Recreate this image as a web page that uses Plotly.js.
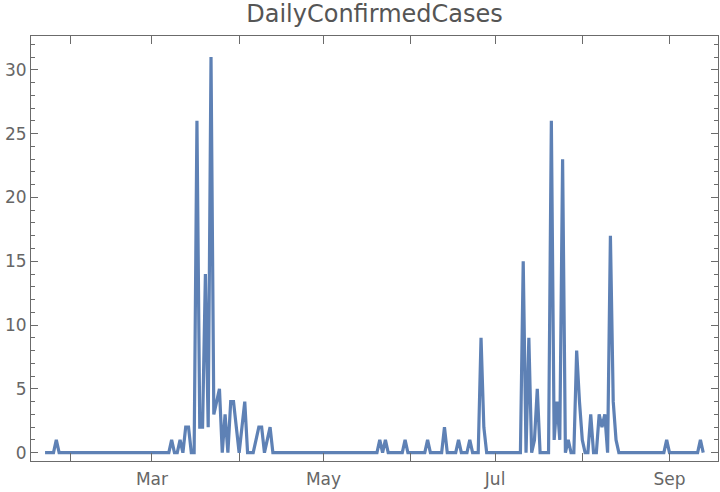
<!DOCTYPE html>
<html>
<head>
<meta charset="utf-8">
<script src="https://cdn.plot.ly/plotly-3.0.1.min.js"></script>
<style>
  html, body { margin: 0; padding: 0; background: #ffffff; }
  #chart { width: 720px; height: 492px; }
</style>
</head>
<body>
<div id="chart"></div>
<script>
// Daily confirmed cases, one value per day starting 2020-01-23
const startDate = '2020-01-23';
const jan = [0,0,0,0,1,0,0,0,0];                                   // Jan 23-31
const feb = [0,0,0,0,0,0,0,0,0,0, 0,0,0,0,0,0,0,0,0,0, 0,0,0,0,0,0,0,0,0]; // Feb 1-29
const mar = [0,0,0,0,0,0,0,1,0,0, 1,0,2,2,0,0,26,2,2,14, 2,31,3,4,5,0,3,0,4,4, 2];
const apr = [0,2,4,0,0,0,1,2,2,0, 1,2,0,0,0,0,0,0,0,0, 0,0,0,0,0,0,0,0,0,0];
const may = [0,0,0,0,0,0,0,0,0,0, 0,0,0,0,0,0,0,0,0,0, 1,0,1,0,0,0,0,0,0,1, 0];
const jun = [0,0,0,0,0,0,1,0,0,0, 0,0,2,0,0,0,0,1,0,0, 0,1,0,0,0,9,2,0,0,0];
const jul = [0,0,0,0,0,0,0,0,0,0, 15,0,9,0,1,5,0,0,0,0, 26,1,4,1,23,0,1,0,0,8, 4];
const aug = [1,0,0,3,0,0,3,2,3,0, 17,4,1,0,0,0,0,0,0,0, 0,0,0,0,0,0,0,0,0,0, 1];
const sep = [0,0,0,0,0,0,0,0,0,0, 0,1,0];                            // Sep 1-13

const tickDates = ['2020-02-01','2020-03-01','2020-04-01','2020-05-01','2020-06-01','2020-07-01','2020-08-01','2020-09-01'];
const tickLabels = ['', 'Mar', '', 'May', '', 'Jul', '', 'Sep'];
const chartTitle = 'DailyConfirmedCases';

const values = [].concat(jan, feb, mar, apr, may, jun, jul, aug, sep);
const dates = [];
const d0 = new Date(startDate + 'T00:00:00Z');
for (let i = 0; i < values.length; i++) {
  const d = new Date(d0.getTime() + i * 86400000);
  dates.push(d.toISOString().slice(0, 10));
}

const axisColor = '#6b6b6b';
const font = 'DejaVu Sans, sans-serif';

const trace = {
  x: dates,
  y: values,
  type: 'scatter',
  mode: 'lines',
  line: { color: '#5E81B5', width: 3.2 },
  hoverinfo: 'x+y'
};

const layout = {
  width: 720,
  height: 492,
  margin: { l: 31, r: 2, t: 36, b: 31 },
  paper_bgcolor: '#ffffff',
  plot_bgcolor: '#ffffff',
  showlegend: false,
  title: {
    text: chartTitle,
    font: { family: font, size: 24, color: '#555555' },
    x: 0.5, xref: 'paper', xanchor: 'center',
    y: 0.972, yref: 'container', yanchor: 'middle'
  },
  xaxis: {
    type: 'date',
    range: ['2020-01-18', '2020-09-18 06:00'],
    tickmode: 'array',
    tickvals: tickDates,
    ticktext: tickLabels,
    ticks: 'inside',
    ticklen: 8,
    tickwidth: 1,
    tickcolor: axisColor,
    ticklabelstandoff: 3,
    showline: true,
    linecolor: axisColor,
    linewidth: 1,
    mirror: 'ticks',
    showgrid: false,
    zeroline: false,
    tickfont: { family: font, size: 17, color: '#666666' }
  },
  yaxis: {
    range: [-0.65, 32.65],
    tickmode: 'linear',
    tick0: 0,
    dtick: 5,
    ticks: 'inside',
    ticklen: 7,
    tickwidth: 1,
    tickcolor: axisColor,
    minor: { dtick: 1, tick0: 0, ticks: 'inside', ticklen: 4, tickcolor: axisColor, showgrid: false },
    showline: true,
    linecolor: axisColor,
    linewidth: 1,
    mirror: 'ticks',
    showgrid: false,
    zeroline: false,
    tickfont: { family: font, size: 17, color: '#666666' }
  }
};

Plotly.newPlot('chart', [trace], layout, { displayModeBar: false, staticPlot: true });
</script>
</body>
</html>
